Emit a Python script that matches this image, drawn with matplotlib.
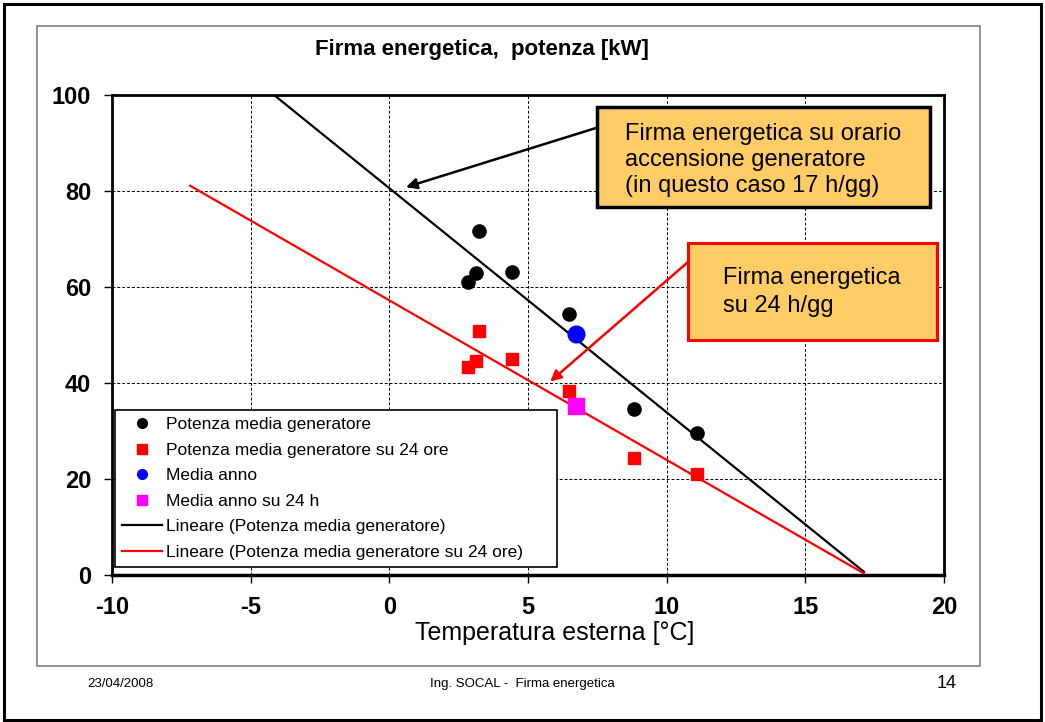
import numpy as np
import matplotlib
matplotlib.use("Agg")
import matplotlib.pyplot as plt
from matplotlib.patches import Rectangle
from matplotlib.lines import Line2D

plt.rcParams['font.family'] = ['Liberation Sans', 'DejaVu Sans']
plt.rcParams['axes.unicode_minus'] = False

# ---- data ----
temp = [2.82, 3.13, 3.23, 4.43, 6.48, 8.82, 11.11]
pot_gen = [61.0, 62.9, 71.7, 63.1, 54.3, 34.6, 29.6]
pot_24 = [43.3, 44.5, 50.9, 45.0, 38.4, 24.4, 21.0]
media_anno_t = [6.73]
media_anno = [50.2]
media_anno24_t = [6.74]
media_anno24 = [35.3]
trend_backward = 10
trend_forward = 6

labels = ["Potenza media generatore",
          "Potenza media generatore su 24 ore",
          "Media anno",
          "Media anno su 24 h",
          "Lineare (Potenza media generatore)",
          "Lineare (Potenza media generatore su 24 ore)"]
xticks = [-10, -5, 0, 5, 10, 15, 20]
yticks = [0, 20, 40, 60, 80, 100]

W, H = 1045, 722
fig = plt.figure(figsize=(W / 100, H / 100), dpi=100)

def fx(px):
    return px / W

def fy(py):
    return 1 - py / H

# slide borders
fig.patches.append(Rectangle((fx(4), fy(720)), fx(1041) - fx(4), fy(4) - fy(720),
                             transform=fig.transFigure, fill=False, ec='black', lw=2.2))
fig.patches.append(Rectangle((fx(37), fy(666)), fx(980) - fx(37), fy(26) - fy(666),
                             transform=fig.transFigure, fill=False, ec='#808080', lw=1.2))

ax = fig.add_axes([fx(112), fy(575), fx(944) - fx(112), fy(95) - fy(575)])
ax.set_xlim(-10, 20)
ax.set_ylim(0, 100)
ax.set_xticks(xticks)
ax.set_yticks(yticks)
ax.grid(True, color='black', linestyle=(0, (3, 2)), linewidth=0.7)
ax.set_axisbelow(True)
for s in ax.spines.values():
    s.set_linewidth(2)
ax.spines['bottom'].set_linewidth(2.5)
ax.tick_params(direction='out', length=6, width=1, labelsize=17, pad=9)
for lab in ax.get_xticklabels() + ax.get_yticklabels():
    lab.set_fontweight('bold')

# trend lines
t = np.array(temp)
b1, a1 = np.polyfit(t, pot_gen, 1)
b2, a2 = np.polyfit(t, pot_24, 1)
xl = np.array([t.min() - trend_backward, t.max() + trend_forward])
ax.plot(xl, a1 + b1 * xl, color='black', lw=1.6, zorder=3)
ax.plot(xl, a2 + b2 * xl, color='red', lw=1.6, zorder=3)

ax.plot(temp, pot_gen, 'o', color='black', ms=9.5, ls='none', zorder=4)
ax.plot(temp, pot_24, 's', color='red', ms=8, ls='none', mec='red', zorder=4)
ax.plot(media_anno_t, media_anno, 'o', color='blue', ms=12, ls='none', zorder=5)
ax.plot(media_anno24_t, media_anno24, 's', color='magenta', ms=12, ls='none', zorder=5)

h1 = Line2D([], [], marker='o', color='black', ls='none', ms=7)
h2 = Line2D([], [], marker='s', color='red', ls='none', ms=7)
h3 = Line2D([], [], marker='o', color='blue', ls='none', ms=7)
h4 = Line2D([], [], marker='s', color='magenta', ls='none', ms=7)
h5 = Line2D([], [], color='black', lw=1.6)
h6 = Line2D([], [], color='red', lw=1.6)
leg = ax.legend([h1, h2, h3, h4, h5, h6], labels, loc='lower left',
                bbox_to_anchor=(0.004, 0.017, (557 - 115) / 832, 0.3), mode='expand',
                borderaxespad=0, fancybox=False,
                edgecolor='black', framealpha=1, fontsize=12.5, handlelength=2.3,
                handletextpad=0.2, labelspacing=0.6, borderpad=0.4)
leg.get_frame().set_linewidth(1.2)
leg.set_zorder(6)

# title and labels
fig.text(fx(482), fy(49), "Firma energetica,  potenza [kW]", ha='center', va='center',
         fontsize=16, fontweight='bold')
ax.set_xlabel("Temperatura esterna [°C]", fontsize=18)
ax.xaxis.set_label_coords((555 - 112) / 832, -(633 - 575) / 480)
ax.xaxis.label.set_va('center')

# annotation boxes
fill = '#FFCC66'
fig.patches.append(Rectangle((fx(597), fy(207)), fx(930) - fx(597), fy(107) - fy(207),
                             transform=fig.transFigure, fc=fill, ec='black', lw=2.5, zorder=7))
fig.text(fx(625), fy(160), "Firma energetica su orario\naccensione generatore\n(in questo caso 17 h/gg)",
         ha='left', va='center', fontsize=17, linespacing=1.22, zorder=8)
fig.patches.append(Rectangle((fx(688), fy(340)), fx(937) - fx(688), fy(243) - fy(340),
                             transform=fig.transFigure, fc=fill, ec='red', lw=2.2, zorder=7))
fig.text(fx(723), fy(292), "Firma energetica\nsu 24 h/gg",
         ha='left', va='center', fontsize=17, linespacing=1.3, zorder=8)

ax.annotate('', xy=(0.6, 80.8), xycoords='data', xytext=(fx(596), fy(128)),
            textcoords='figure fraction',
            arrowprops=dict(arrowstyle='-|>', color='black', lw=1.8, mutation_scale=16,
                            shrinkA=0, shrinkB=0), annotation_clip=False)
ax.annotate('', xy=(5.8, 40.3), xycoords='data', xytext=(fx(688), fy(262)),
            textcoords='figure fraction',
            arrowprops=dict(arrowstyle='-|>', color='red', lw=1.8, mutation_scale=16,
                            shrinkA=0, shrinkB=0), annotation_clip=False)

# footer
fig.text(fx(120), fy(684), "23/04/2008", ha='center', va='center', fontsize=9.5)
fig.text(fx(522), fy(684), "Ing. SOCAL -  Firma energetica", ha='center', va='center', fontsize=9.5)
fig.text(fx(947), fy(684), "14", ha='center', va='center', fontsize=13)

fig.savefig("out.png", dpi=100)
